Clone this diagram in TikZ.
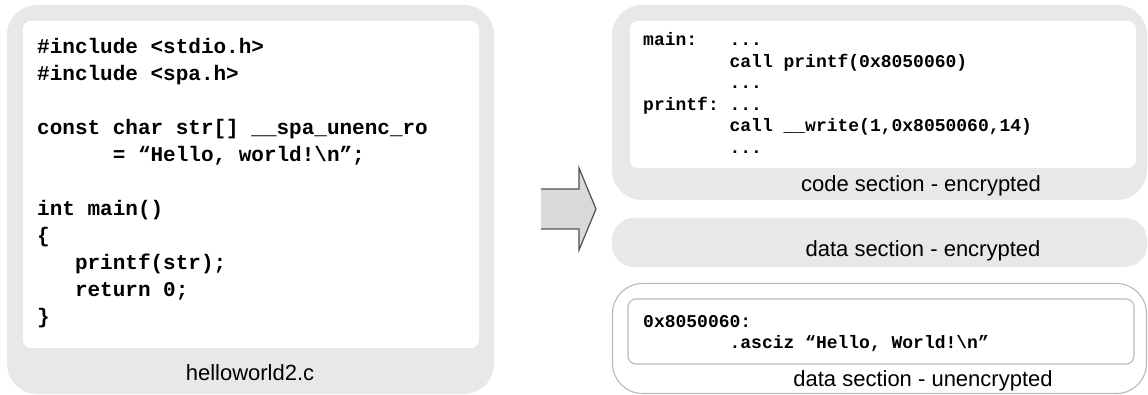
\documentclass[tikz,border=0pt]{standalone}
\usepackage{fontspec}
\setmainfont{Liberation Sans}
\setmonofont{Liberation Mono}
\usepackage{tikz}
\usetikzlibrary{calc}
\definecolor{panelgray}{RGB}{232,232,232}
\definecolor{linegray}{RGB}{185,185,185}
\definecolor{arrowfill}{RGB}{217,217,217}
\definecolor{arrowedge}{RGB}{80,80,80}
\newcommand{\cind}[1]{\hspace*{#1\fontcharwd\font`\0}}
\newcommand{\bigcode}{\ttfamily\bfseries\fontsize{21}{27}\selectfont}
\newcommand{\smallcode}{\ttfamily\bfseries\fontsize{18}{21.5}\selectfont}
\tikzset{
  panel/.style={rounded corners=30pt, fill=panelgray, inner sep=0},
  openpanel/.style={rounded corners=30pt, draw=linegray, line width=1.1pt, inner sep=0},
  sheet/.style={rounded corners=8pt, fill=white, inner sep=0},
  opensheet/.style={rounded corners=8pt, draw=linegray, line width=1.1pt, inner sep=0},
  codetext/.style={anchor=base west, inner sep=0, text width=#1, align=flush left},
  caption/.style={anchor=base, inner sep=0, font=\fontsize{22}{26}\selectfont}
}

\begin{document}
\begin{tikzpicture}[x=1pt,y=-1pt]
    \useasboundingbox (0,0) rectangle (1148,395);
    \node[panel, minimum width=487pt, minimum height=389pt](src) at (250.5,199.5) {};
    \node[sheet, minimum width=456pt, minimum height=327pt](srcsheet) at (251,184.5) {};
    \node[codetext=440pt, font=\bigcode](srccode) at (37,54) {
        \#include <stdio.h>\\
        \#include <spa.h>\\[27pt]
        const char str[] \_\_spa\_unenc\_ro\\
        \cind{6}= “Hello, world!\textbackslash n”;\\[27pt]
        int main()\\
        \{\\
        \cind{3}printf(str);\\
        \cind{3}return 0;\\
        \}};
    \node[caption](srcname) at (250,380) {helloworld2.c};

    \node[panel, minimum width=535pt, minimum height=195pt](text) at (879.5,102.5) {};
    \node[sheet, minimum width=506pt, minimum height=147pt](textsheet) at (883,94.5) {};
    \node[codetext=480pt, font=\smallcode](textcode) at (643,46) {
        main:~~~...\\
        \cind{8}call printf(0x8050060)\\
        \cind{8}...\\
        printf:~...\\
        \cind{8}call \_\_write(1,0x8050060,14)\\
        \cind{8}...};
    \node[caption](textname) at (921,192) {code section - encrypted};

    \node[panel, rounded corners=22pt, minimum width=535pt, minimum height=49pt](data) at (879.5,242.5) {};
    \node[caption](dataname) at (923,257) {data section - encrypted};

    \node[openpanel, minimum width=534pt, minimum height=110pt](rodata) at (879.5,338.5) {};
    \node[opensheet, minimum width=506pt, minimum height=65pt](rodatasheet) at (881,331.5) {};
    \node[codetext=480pt, font=\smallcode](rodatacode) at (643,327) {
        0x8050060:\\
        \cind{8}.asciz “Hello, World!\textbackslash n”};
    \node[caption](rodataname) at (923,386) {data section - unencrypted};

    \fill[arrowfill] (541,189) -- (579,189) -- (579,168) -- (596,209)
        -- (579,250) -- (579,229) -- (541,229) -- cycle;
    \draw[arrowedge, line width=1.2pt, line join=miter]
        (541,189) -- (579,189) -- (579,168) -- (596,209)
        -- (579,250) -- (579,229) -- (541,229);
\end{tikzpicture}
\end{document}
